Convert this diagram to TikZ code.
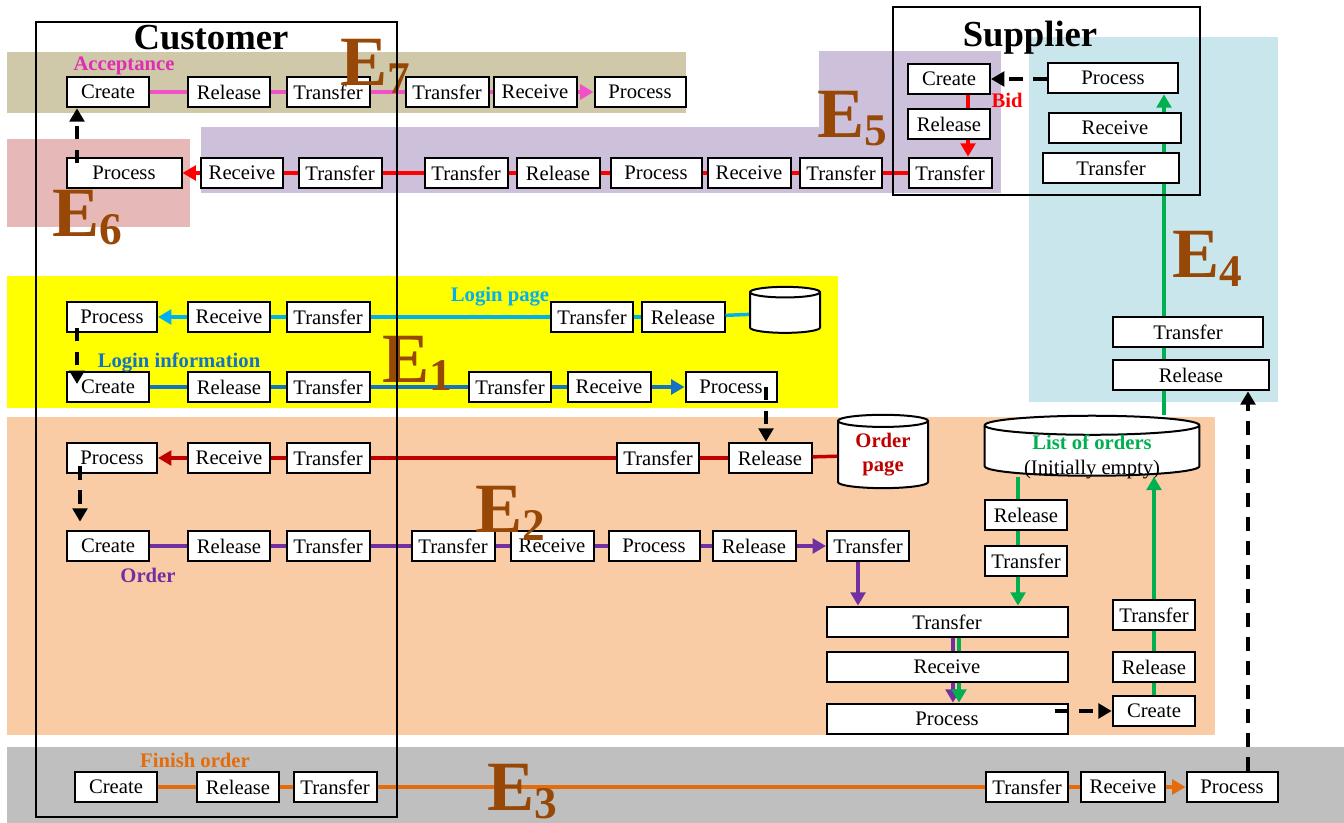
\documentclass[tikz,border=0pt]{standalone}
\usepackage{fontspec}
\setmainfont{Liberation Serif}
\usetikzlibrary{arrows.meta,calc,shapes.geometric,positioning}

\definecolor{bandkhaki}{RGB}{207,200,169}
\definecolor{bandpink}{RGB}{230,185,184}
\definecolor{bandlav}{RGB}{204,192,218}
\definecolor{bandblue}{RGB}{202,230,237}
\definecolor{bandyellow}{RGB}{255,255,0}
\definecolor{bandpeach}{RGB}{250,204,166}
\definecolor{bandgrey}{RGB}{191,191,191}
\definecolor{accpink}{RGB}{225,45,180}
\definecolor{accline}{RGB}{240,80,200}
\definecolor{loginblue}{RGB}{0,176,240}
\definecolor{infoblue}{RGB}{20,115,195}
\definecolor{darkred}{RGB}{192,0,0}
\definecolor{ordpurple}{RGB}{112,48,160}
\definecolor{ordgreen}{RGB}{0,176,80}
\definecolor{finorange}{RGB}{228,108,10}
\definecolor{ebrown}{RGB}{152,72,6}

\pgfdeclarelayer{bands}
\pgfdeclarelayer{wires}
\pgfsetlayers{bands,wires,main}

\newcommand{\ebig}[1]{\fontsize{53}{53}\selectfont E\raisebox{-6pt}{\fontsize{34}{34}\selectfont #1}}

\tikzset{
  box/.style={draw,fill=white,line width=1.5pt,minimum height=23pt,inner sep=1pt,font=\fontsize{15.5}{16}\selectfont},
  db/.style={cylinder,shape border rotate=90,draw,fill=white,line width=1.5pt,inner sep=0pt,align=center},
  wire/.style={line width=2.6pt},
  tip/.style={-{Triangle[length=10pt,width=11pt]}},
  dasharrow/.style={line width=2.6pt,dash pattern=on 10pt off 8pt,-{Triangle[length=10pt,width=11pt]}},
  lab/.style={inner sep=0pt,font=\fontsize{15.5}{16}\selectfont\bfseries},
  elab/.style={text=ebrown,anchor=base west,inner sep=0pt,font=\bfseries},
  head/.style={inner sep=0pt,font=\fontsize{27.5}{28}\selectfont\bfseries}
}

\begin{document}
\begin{tikzpicture}[x=0.75pt,y=-0.75pt]
\useasboundingbox (0,0) rectangle (1344,823);

\begin{pgfonlayer}{bands}
\fill[bandkhaki] (7,52) rectangle (686,113);
\fill[bandpink] (7,139) rectangle (190,227);
\fill[bandlav] (201,127) rectangle (1001,193);
\fill[bandlav] (819,51) rectangle (1001,193);
\fill[bandblue] (1029,37) rectangle (1278,402);
\fill[bandyellow] (7,276) rectangle (838,408);
\fill[bandpeach] (7,417) rectangle (1215,735);
\fill[bandgrey] (7,747) rectangle (1344,823);
\end{pgfonlayer}

\node[head] (cust) at (211,38) {Customer};
\node[head] (supp) at (1030,38) {Supplier};

\foreach \n/\x/\w/\t in {1/108/82/Create,2/229/82/Release,3/328/83/Transfer,4/447/83/Transfer,5/535/83/Receive,6/640/91/Process}
  \node[box,minimum width=\w*0.75pt] (k\n) at (\x,92) {\t};
\foreach \a/\b in {1/2,2/3,3/4,4/5}
  \draw[wire,accline] (k\a) -- (k\b);
\draw[wire,accline,tip] (k5) -- (k6);
\node[lab,text=accpink] (accept) at (124,66) {Acceptance};

\foreach \n/\x/\w/\t in {1/124/115/Process,2/242/82/Receive,3/340/83/Transfer,4/466/83/Transfer,5/558/83/Release,6/656/91/Process,7/749/83/Receive,8/841/82/Transfer,9/950/83/Transfer}
  \node[box,minimum width=\w*0.75pt] (r\n) at (\x,173) {\t};
\foreach \a/\b in {9/8,8/7,7/6,6/5,5/4,4/3,3/2}
  \draw[wire,red] (r\a) -- (r\b);
\draw[wire,red,tip] (r2) -- (r1);

\node[box,minimum width=61.5pt] (sc) at (949,79) {Create};
\node[box,minimum width=62pt] (sr) at (949,124) {Release};
\node[box,minimum width=98pt] (sp) at (1113,78) {Process};
\node[box,minimum width=99pt] (sv) at (1115,128) {Receive};
\node[box,minimum width=102pt] (st) at (1111,168) {Transfer};
\node[lab,text=red] (bid) at (1007,100) {Bid};
\coordinate (bx) at (968,0);
\draw[wire,red] (sc.south -| bx) -- (sr.north -| bx);
\draw[wire,red,tip] (sr.south -| bx) -- (r9.north -| bx);
\draw[dasharrow] (sp.west |- sc) -- (sc.east);

\node[box,minimum width=113pt] (ft) at (1188,332) {Transfer};
\node[box,minimum width=117pt] (fr) at (1191,375) {Release};

\foreach \n/\x/\w/\t in {1/112/90/Process,2/229/82/Receive,3/328/83/Transfer,4/592/82/Transfer,5/683/83/Release}
  \node[box,minimum width=\w*0.75pt] (b\n) at (\x,317) {\t};
\node[db,minimum width=52.5pt,minimum height=34.5pt,aspect=0.22,font=\fontsize{15.5}{16}\selectfont] (db1) at (785,313) {\phantom{Order}};
\draw[wire,loginblue] (db1) -- (b5);
\foreach \a/\b in {5/4,4/3,3/2}
  \draw[wire,loginblue] (b\a) -- (b\b);
\draw[wire,loginblue,tip] (b2) -- (b1);
\node[lab,text=loginblue] (loginpage) at (500,297) {Login page};

\foreach \n/\x/\w/\t in {1/108/82/Create,2/229/82/Release,3/328/83/Transfer,4/510/82/Transfer,5/609/83/Receive,6/731/91/Process}
  \node[box,minimum width=\w*0.75pt] (c\n) at (\x,387) {\t};
\foreach \a/\b in {1/2,2/3,3/4,4/5}
  \draw[wire,infoblue] (c\a) -- (c\b);
\draw[wire,infoblue,tip] (c5) -- (c6);
\node[lab,text=infoblue] (logininfo) at (179,363) {Login information};

\foreach \n/\x/\w/\t in {1/112/90/Process,2/229/82/Receive,3/328/83/Transfer,4/658/82/Transfer,5/770/83/Release}
  \node[box,minimum width=\w*0.75pt] (o\n) at (\x,458) {\t};
\node[db,minimum width=67.5pt,minimum height=55pt,aspect=0.22,font=\fontsize{15.5}{18}\selectfont\bfseries,text=darkred] (db2) at (883,455) {Order\\page};
\draw[wire,darkred] (db2) -- (o5);
\foreach \a/\b in {5/4,4/3,3/2}
  \draw[wire,darkred] (o\a) -- (o\b);
\draw[wire,darkred,tip] (o2) -- (o1);

\foreach \n/\x/\w/\t in {1/108/82/Create,2/229/82/Release,3/328/83/Transfer,4/453/83/Transfer,5/552/83/Receive,6/654/91/Process,7/754/83/Release,8/868/82/Transfer}
  \node[box,minimum width=\w*0.75pt] (p\n) at (\x,546) {\t};
\foreach \a/\b in {1/2,2/3,3/4,4/5,5/6,6/7}
  \draw[wire,ordpurple] (p\a) -- (p\b);
\draw[wire,ordpurple,tip] (p7) -- (p8);
\node[lab,text=ordpurple] (order) at (148,575) {Order};

\node[box,minimum width=180.75pt] (q1) at (947,622) {Transfer};
\node[box,minimum width=180.75pt] (q2) at (947,667) {Receive};
\node[box,minimum width=180.75pt] (q3) at (947,719) {Process};
\coordinate (px) at (858,0);
\coordinate (qa) at (953,0);
\coordinate (qb) at (959,0);
\draw[wire,ordpurple,tip] (p8.south -| px) -- (q1.north -| px);
\draw[wire,ordpurple] (q1.south -| qa) -- (q2.north -| qa);
\draw[wire,ordpurple,tip] (q2.south -| qa) -- (q3.north -| qa);
\draw[wire,ordgreen] (q1.south -| qb) -- (q2.north -| qb);
\draw[wire,ordgreen,tip] (q2.south -| qb) -- (q3.north -| qb);

\node[db,minimum width=161pt,minimum height=45pt,aspect=0.14,font=\fontsize{15.5}{18.5}\selectfont] (db3) at (1092,451) {\raisebox{-8pt}[6pt][6pt]{\begin{tabular}{@{}c@{}}\textcolor{ordgreen}{\bfseries List of orders}\\(Initially empty)\end{tabular}}};
\node[box,minimum width=62pt] (g1) at (1026,515) {Release};
\node[box,minimum width=62pt] (g2) at (1026,561) {Transfer};
\coordinate (ga) at (1018,0);
\draw[wire,ordgreen] (db3.south -| ga) -- (g1.north -| ga);
\draw[wire,ordgreen] (g1.south -| ga) -- (g2.north -| ga);
\draw[wire,ordgreen,tip] (g2.south -| ga) -- (q1.north -| ga);

\foreach \n/\y/\t in {1/615/Transfer,2/667/Release,3/711/Create}
  \node[box,minimum width=62pt] (h\n) at (1154,\y) {\t};
\draw[wire,ordgreen] (h3) -- (h2);
\draw[wire,ordgreen] (h2) -- (h1);
\draw[wire,ordgreen,tip] (h1.north) -- (db3.south -| h1);
\draw[dasharrow] ([xshift=-10pt]q3.east |- h3) -- (h3.west);

\coordinate (gx) at (1164,0);
\begin{pgfonlayer}{wires}
\draw[wire,ordgreen,tip] (db3.north -| gx) -- (sp.south -| gx);
\end{pgfonlayer}

\foreach \n/\x/\w/\t in {1/116/82/Create,2/238/82/Release,3/335/83/Transfer,4/1027/82/Transfer,5/1123/84/Receive,6/1232/91/Process}
  \node[box,minimum width=\w*0.75pt] (t\n) at (\x,787) {\t};
\foreach \a/\b in {1/2,2/3,3/4,4/5}
  \draw[wire,finorange] (t\a) -- (t\b);
\draw[wire,finorange,tip] (t5) -- (t6);
\node[lab,text=finorange] (finish) at (195,760) {Finish order};

\coordinate (lx) at (77,0);
\coordinate (mx) at (80,0);
\coordinate (ex) at (766,0);
\coordinate (dx) at (1248,0);
\draw[dasharrow] ([yshift=-5pt]r1.north -| lx) -- (k1.south -| lx);
\draw[dasharrow] ([yshift=4pt]b1.south -| lx) -- ([yshift=-10pt]c1.north -| lx);
\draw[dasharrow] ([yshift=6pt]o1.south -| mx) -- ([yshift=6pt]p1.north -| mx);
\draw[dasharrow] (c6.center -| ex) -- (o5.north -| ex);
\draw[dasharrow] (t6.north -| dx) -- (fr.south -| dx);

\node[elab] (e7) at (340,86) {\ebig{7}};
\node[elab] (e6) at (52,237) {\ebig{6}};
\node[elab] (e5) at (817,138) {\ebig{5}};
\node[elab] (e4) at (1172,278) {\ebig{4}};
\node[elab] (e1) at (382,382) {\ebig{1}};
\node[elab] (e2) at (475,532) {\ebig{2}};
\node[elab] (e3) at (487,810) {\ebig{3}};

\draw[line width=1.3pt] (36,22) rectangle (397,817);
\draw[line width=1.3pt] (893,7) rectangle (1200,195);
\end{tikzpicture}
\end{document}
